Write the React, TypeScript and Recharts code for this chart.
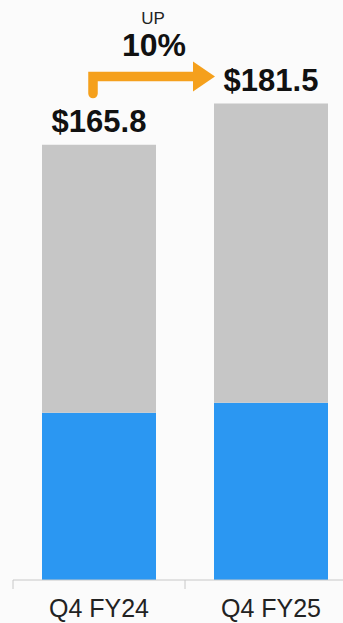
import { BarChart, Bar, XAxis, YAxis, LabelList } from 'recharts'

// quarterly revenue, $ billions
const quarters = ['Q4 FY24', 'Q4 FY25']
const totals = [165.8, 181.5]
const baseValues = [63.7, 67.5]
const growthWord = 'UP'
const growthText = '10%'

const data = quarters.map((q, i) => ({
  quarter: q,
  base: baseValues[i],
  rest: +(totals[i] - baseValues[i]).toFixed(1),
  total: totals[i],
}))

const WIDTH = 370
const HEIGHT = 623
const MARGIN = { top: 55, right: 13, left: 13, bottom: 0 }
const BAND = (WIDTH - MARGIN.left - MARGIN.right) / quarters.length
const FONT = '"Liberation Sans", Arial, sans-serif'
const ORANGE = '#F5A01C'

const QuarterTick = (props: any) => {
  const { x, y, payload } = props
  const left = x - BAND / 2
  return (
    <g>
      <line x1={left} y1={y} x2={left} y2={y + 9} stroke="#c8c8c8" strokeWidth={1} />
      <text x={x} y={y + 37} textAnchor="middle" fontFamily={FONT} fontSize={25} fill="#222">
        {payload.value}
      </text>
    </g>
  )
}

const TotalLabel = (props: any) => {
  const { x, y, width, index } = props
  const cx = x + width / 2
  const total = totals[index]
  let arrow = null
  if (index === 1) {
    // arrow from the previous quarter's label into this one
    const startX = cx - BAND - 6
    const lineY = y - 27
    const tipX = x + 1
    const baseX = tipX - 22
    const mid = (startX + tipX) / 2 - 1
    arrow = (
      <g>
        <path
          d={`M ${startX} ${lineY + 17} L ${startX} ${lineY} L ${baseX} ${lineY}`}
          fill="none"
          stroke={ORANGE}
          strokeWidth={9.5}
          strokeLinecap="round"
        />
        <polygon points={`${baseX},${lineY - 15} ${tipX},${lineY} ${baseX},${lineY + 15}`} fill={ORANGE} />
        <text x={mid} y={lineY - 53} textAnchor="middle" fontFamily={FONT} fontSize={17} fill="#222">
          {growthWord}
        </text>
        <text x={mid + 1} y={lineY - 21} textAnchor="middle" fontFamily={FONT} fontSize={32} fontWeight="bold" fill="#111">
          {growthText}
        </text>
      </g>
    )
  }
  return (
    <g>
      {arrow}
      <text x={cx} y={y - 13} textAnchor="middle" fontFamily={FONT} fontSize={31} fontWeight="bold" fill="#111">
        ${total.toFixed(1)}
      </text>
    </g>
  )
}

export default function App() {
  return (
    <div style={{ position: 'absolute', top: 0, left: 0, width: 343, height: HEIGHT, overflow: 'hidden', background: '#fbfbfb' }}>
      <BarChart width={WIDTH} height={HEIGHT} data={data} margin={MARGIN}>
        <XAxis
          dataKey="quarter"
          height={43}
          axisLine={{ stroke: '#c8c8c8' }}
          tickLine={false}
          tickSize={0}
          tickMargin={0}
          tick={<QuarterTick />}
          interval={0}
        />
        <YAxis hide domain={[0, 200]} />
        <Bar dataKey="base" stackId="a" fill="#2B97F2" barSize={114} isAnimationActive={false} />
        <Bar dataKey="rest" stackId="a" fill="#C6C6C6" barSize={114} isAnimationActive={false}>
          <LabelList dataKey="total" content={<TotalLabel />} />
        </Bar>
      </BarChart>
    </div>
  )
}
